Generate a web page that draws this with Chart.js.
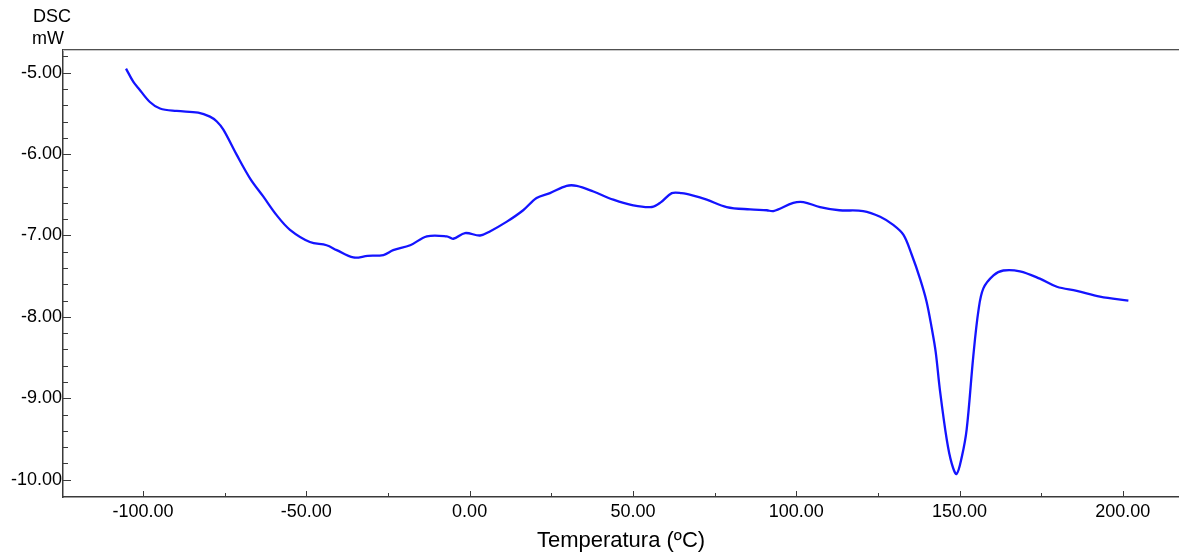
<!DOCTYPE html>
<html>
<head>
<meta charset="utf-8">
<title>DSC</title>
<script src="https://cdn.jsdelivr.net/npm/chart.js@4.4.1/dist/chart.umd.min.js"></script>
<style>
  html, body { margin: 0; padding: 0; background: #fff; }
  #wrap { width: 1179px; height: 555px; position: relative; }
</style>
</head>
<body>
<div id="wrap"><canvas id="dscChart"></canvas></div>
<script>
// Temperature (ºC) and heat flow (mW) of the DSC scan
const temps = [
  -105.2, -103.0, -101.4, -97.9, -94.8, -89.7, -83.1, -79.5, -77.4, -75.4,
  -71.3, -67.2, -63.2, -59.1, -55.0, -48.9, -43.8, -40.7, -35.6, -31.2,
  -26.4, -23.4, -18.2, -13.1, -7.0, -5.0, -1.4, 3.2, 6.2, 11.4,
  16.4, 20.5, 24.6, 29.7, 32.8, 37.9, 44.0, 50.1, 55.8, 58.6,
  61.9, 64.9, 68.5, 72.6, 78.7, 85.9, 91.0, 93.0, 99.1, 102.2,
  107.3, 113.2, 120.5, 125.7, 129.7, 132.8, 135.4, 137.9, 139.9, 141.5,
  142.7, 144.0, 146.1, 147.6, 149.1, 150.7, 152.2, 154.2, 155.8, 157.3,
  160.4, 163.4, 168.5, 174.6, 179.8, 185.9, 193.0, 201.7
];
const heatFlow = [
  -4.95, -5.11, -5.19, -5.36, -5.44, -5.47, -5.49, -5.54, -5.60, -5.70,
  -6.01, -6.30, -6.52, -6.75, -6.93, -7.08, -7.12, -7.18, -7.27, -7.25,
  -7.24, -7.18, -7.12, -7.01, -7.01, -7.04, -6.97, -7.00, -6.95, -6.83,
  -6.69, -6.54, -6.48, -6.39, -6.39, -6.46, -6.56, -6.63, -6.65, -6.59,
  -6.48, -6.48, -6.51, -6.56, -6.65, -6.68, -6.69, -6.70, -6.60, -6.59,
  -6.65, -6.69, -6.70, -6.77, -6.87, -6.99, -7.24, -7.53, -7.81, -8.14,
  -8.43, -8.90, -9.51, -9.80, -9.93, -9.72, -9.38, -8.49, -7.92, -7.65,
  -7.49, -7.43, -7.44, -7.53, -7.63, -7.68, -7.75, -7.80
];

// Axis ticks
const xTicks = [-100, -50, 0, 50, 100, 150, 200];
const yTicks = [-10, -9, -8, -7, -6, -5];
const xMinorStep = 25;
const yMinorStep = 0.2;

const FONT = '"Liberation Sans", Arial, sans-serif';
const AXIS_COLOR = '#3a3a3a';

const points = temps.map((t, i) => ({ x: t, y: heatFlow[i] }));

// Inward tick marks, top frame line and the unit labels
const frameDecor = {
  id: 'frameDecor',
  afterDraw(chart) {
    const { ctx, chartArea, scales } = chart;
    const xs = scales.x, ys = scales.y;
    ctx.save();
    ctx.strokeStyle = AXIS_COLOR;
    ctx.lineWidth = 1;

    // x axis ticks
    for (let v = Math.ceil(xs.min / xMinorStep) * xMinorStep; v <= xs.max; v += xMinorStep) {
      const px = Math.round(xs.getPixelForValue(v)) + 0.5;
      const len = xTicks.includes(v) ? 6 : 4;
      ctx.beginPath();
      ctx.moveTo(px, chartArea.bottom);
      ctx.lineTo(px, chartArea.bottom - len);
      ctx.stroke();
    }

    // y axis ticks
    const n0 = Math.ceil(ys.min / yMinorStep - 1e-6);
    const n1 = Math.floor(ys.max / yMinorStep + 1e-6);
    for (let n = n0; n <= n1; n++) {
      const v = +(n * yMinorStep).toFixed(2);
      const py = Math.round(ys.getPixelForValue(v)) + 0.5;
      const len = yTicks.includes(v) ? 8 : 5;
      ctx.beginPath();
      ctx.moveTo(chartArea.left, py);
      ctx.lineTo(chartArea.left + len, py);
      ctx.stroke();
    }

    // top frame
    ctx.strokeStyle = '#505050';
    ctx.beginPath();
    ctx.moveTo(chartArea.left, chartArea.top - 0.5);
    ctx.lineTo(chartArea.right, chartArea.top - 0.5);
    ctx.stroke();
    ctx.strokeStyle = '#c8c8c8';
    ctx.beginPath();
    ctx.moveTo(chartArea.left, chartArea.top + 0.5);
    ctx.lineTo(chartArea.right, chartArea.top + 0.5);
    ctx.stroke();

    // unit labels above the y axis
    ctx.fillStyle = '#000';
    ctx.font = '18px ' + FONT;
    ctx.textAlign = 'center';
    ctx.textBaseline = 'middle';
    ctx.fillText('DSC', 52, 17);
    ctx.fillText('mW', 48, 39);
    ctx.restore();
  }
};

new Chart(document.getElementById('dscChart'), {
  type: 'scatter',
  data: {
    datasets: [{
      label: 'DSC',
      data: points,
      showLine: true,
      borderColor: '#1414ff',
      borderWidth: 2.3,
      pointRadius: 0,
      tension: 0.35,
      fill: false
    }]
  },
  options: {
    responsive: true,
    maintainAspectRatio: false,
    animation: false,
    layout: { padding: { top: 50, right: 0, left: 0, bottom: 0 } },
    plugins: {
      legend: { display: false },
      tooltip: { enabled: false }
    },
    scales: {
      x: {
        type: 'linear',
        min: -124.5,
        max: 217.2,
        afterBuildTicks: (s) => { s.ticks = xTicks.map(v => ({ value: v })); },
        afterFit: (s) => { s.height = 58; },
        grid: { display: false, drawTicks: false },
        border: { display: true, color: AXIS_COLOR, width: 1.5 },
        ticks: {
          color: '#000',
          font: { family: FONT, size: 18 },
          padding: 4,
          maxRotation: 0,
          autoSkip: false,
          callback: (v) => Number(v).toFixed(2)
        },
        title: {
          display: true,
          text: 'Temperatura (ºC)',
          color: '#000',
          font: { family: FONT, size: 22 },
          padding: { top: 0, bottom: 1 }
        }
      },
      y: {
        type: 'linear',
        min: -10.213,
        max: -4.721,
        afterBuildTicks: (s) => { s.ticks = yTicks.map(v => ({ value: v })); },
        afterFit: (s) => { s.width = 63; },
        grid: { display: false, drawTicks: false },
        border: { display: true, color: AXIS_COLOR, width: 1.5 },
        ticks: {
          color: '#000',
          font: { family: FONT, size: 18 },
          padding: 1,
          autoSkip: false,
          callback: (v) => Number(v).toFixed(2)
        }
      }
    }
  },
  plugins: [frameDecor]
});
</script>
</body>
</html>
